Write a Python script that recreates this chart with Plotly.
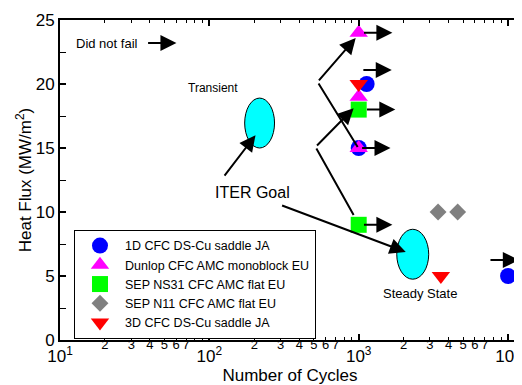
import math
import plotly.graph_objects as go

# ---------------- data ----------------
series_names = ["1D CFC DS-Cu saddle JA", "Dunlop CFC AMC monoblock EU",
                "SEP NS31 CFC AMC flat EU", "SEP N11 CFC AMC flat EU",
                "3D CFC DS-Cu saddle JA"]
cycles_1d = [1130, 1000, 10000]
flux_1d = [20, 15, 5]
cycles_dunlop = [1000, 1000, 1000]
flux_dunlop = [24, 19, 15]
cycles_ns31 = [1000, 1000]
flux_ns31 = [18, 9]
cycles_n11 = [3400, 4600]
flux_n11 = [10, 10]
cycles_3d = [1000, 3550]
flux_3d = [20, 5]

# "did not fail" arrows (tail position)
dnf_cycles = [38, 1060, 1050, 1110, 1030, 1060, 7450]
dnf_flux = [23.2, 24, 21.1, 18, 15, 9, 6.25]

# ITER goal regions (ellipses)
region_names = ["Transient", "Steady State"]
region_cycles = [217, 2300]
region_flux = [16.95, 6.7]

major_ticks = [10, 100, 1000, 10000]
major_text = ["10<sup>1</sup>", "10<sup>2</sup>", "10<sup>3</sup>", "10<sup>4</sup>"]
minor_digits = [2, 3, 4, 5, 6, 7]
y_ticks = [0, 5, 10, 15, 20, 25]

# ---------------- style ----------------
FONT = "Liberation Sans, Arial, sans-serif"
colors = ["#0000ff", "#ff00ff", "#00ff00", "#808080", "#ff0000"]
symbols = ["circle", "triangle-up", "square", "diamond", "triangle-down"]
sizes = [16, 16, 16, 13, 16]
xs = [cycles_1d, cycles_dunlop, cycles_ns31, cycles_n11, cycles_3d]
ys = [flux_1d, flux_dunlop, flux_ns31, flux_n11, flux_3d]

fig = go.Figure()
for name, x, y, c, s, sz in zip(series_names, xs, ys, colors, symbols, sizes):
    fig.add_trace(go.Scatter(x=x, y=y, mode="markers", name=name,
                             marker=dict(color=c, symbol=s, size=sz, line=dict(width=0))))

# dummy trace for the minor-label axis
fig.add_trace(go.Scatter(x=[], y=[], xaxis="x2", showlegend=False))

XR = [1, 4.08]
minor_vals = [d * 10 ** e for e in (1, 2, 3) for d in minor_digits]
minor_text = [str(d) for e in (1, 2, 3) for d in minor_digits]
all_minor = [d * 10 ** e for e in (1, 2, 3) for d in range(2, 10)] + [2e4]

# page body has an 8px default margin -> compensate
fig.update_layout(
    width=514, height=377,
    margin=dict(l=52, r=2, t=12, b=45, autoexpand=False),
    paper_bgcolor="white", plot_bgcolor="white",
    font=dict(family=FONT, color="black", size=13),
    xaxis=dict(type="log", range=XR, tickvals=major_ticks, ticktext=major_text,
               ticks="inside", ticklen=6, tickwidth=1.5, tickcolor="black",
               showline=True, linecolor="black", linewidth=2, mirror="allticks",
               showgrid=False, zeroline=False, tickfont=dict(size=17),
               ticklabelstandoff=0, automargin=False,
               minor=dict(tickvals=all_minor, ticks="inside", ticklen=3,
                          tickcolor="black", tickwidth=1, showgrid=False),
               title=dict(text="Number of Cycles", font=dict(size=17), standoff=12)),
    xaxis2=dict(type="log", range=XR, overlaying="x", anchor="y", side="bottom",
                tickvals=minor_vals, ticktext=minor_text, ticks="",
                showline=False, showgrid=False, zeroline=False, automargin=False,
                tickfont=dict(size=13), ticklabelstandoff=-5),
    yaxis=dict(range=[0, 25], tickvals=y_ticks, ticks="inside", ticklen=6,
               tickwidth=1.5, tickcolor="black", showline=True, linecolor="black",
               linewidth=2, mirror="allticks", showgrid=False, zeroline=False,
               tickfont=dict(size=17), automargin=False,
               minor=dict(dtick=2.5, ticks="inside", ticklen=3, tickcolor="black",
                          tickwidth=1, showgrid=False),
               title=dict(text="Heat Flux (MW/m<sup>2</sup>)", font=dict(size=17), standoff=0)),
    legend=dict(x=0.0304, y=0.344, xanchor="left", yanchor="top",
                bordercolor="black", borderwidth=1, bgcolor="white",
                font=dict(size=12.5), itemwidth=40),
)

# ellipses for the ITER goal regions
half_w = [0.1, 0.107]
half_h = [1.95, 1.95]
for xc, yc, hw, hh in zip(region_cycles, region_flux, half_w, half_h):
    lx = math.log10(xc)
    fig.add_shape(type="circle", xref="x", yref="y",
                  x0=10 ** (lx - hw), x1=10 ** (lx + hw), y0=yc - hh, y1=yc + hh,
                  fillcolor="#00ffff", line=dict(color="black", width=1), layer="below")

# region labels
fig.add_annotation(x=2.027, y=19.7, text="Transient", showarrow=False, font=dict(size=12))
fig.add_annotation(x=3.413, y=3.67, text="Steady State", showarrow=False, font=dict(size=13))
fig.add_annotation(x=1.315, y=23.2, text="Did not fail", showarrow=False, font=dict(size=13))
fig.add_annotation(x=2.289, y=11.5, text="ITER Goal", showarrow=False, font=dict(size=16))

# did-not-fail arrows
for c, f in zip(dnf_cycles, dnf_flux):
    lx = math.log10(c)
    fig.add_annotation(x=lx + 0.2, y=f, ax=lx, ay=f, axref="x", ayref="y",
                       xref="x", yref="y", text="", showarrow=True,
                       arrowhead=2, arrowsize=1.6, arrowwidth=2, arrowcolor="black")

# ITER goal pointer lines: (tail_logx, tail_y, head_logx, head_y, head)
pointers = [
    (2.094, 12.73, 2.309, 16.0, 2),
    (2.477, 10.55, 3.315, 6.875, 2),
    (2.725, 20.16, 2.98, 23.6, 2),
    (2.725, 20.16, 2.993, 15.08, 0),
    (2.711, 15.08, 2.966, 18.1, 2),
    (2.711, 15.08, 2.966, 9.77, 0),
]
for tx, ty, hx, hy, hd in pointers:
    fig.add_annotation(x=hx, y=hy, ax=tx, ay=ty, axref="x", ayref="y",
                       xref="x", yref="y", text="", showarrow=True,
                       arrowhead=hd, arrowsize=1.6, arrowwidth=2, arrowcolor="black")

fig.write_html("out.html")
